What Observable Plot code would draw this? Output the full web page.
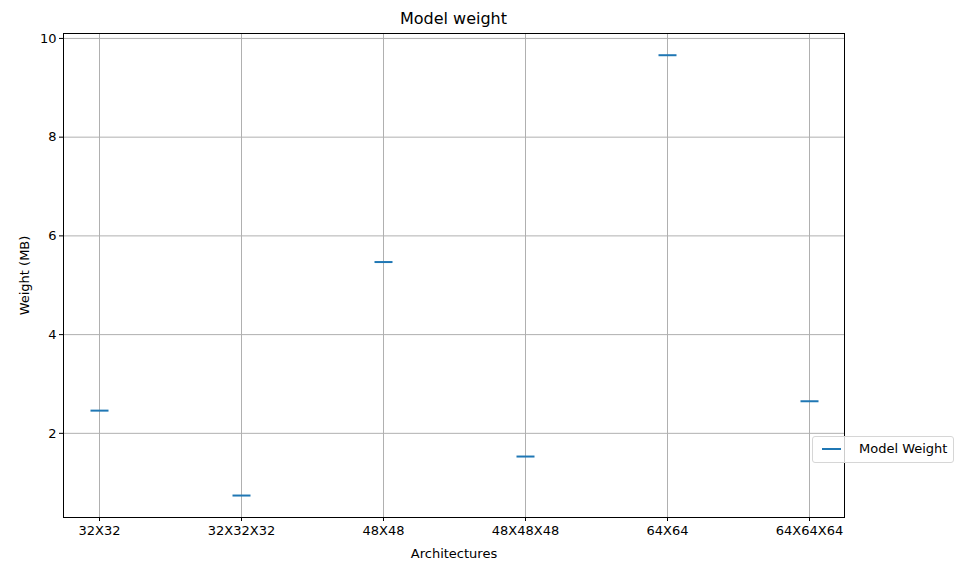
<!DOCTYPE html>
<html>
<head>
<meta charset="utf-8">
<script src="https://cdn.jsdelivr.net/npm/d3@7"></script>
<script src="https://cdn.jsdelivr.net/npm/@observablehq/plot@0.6"></script>
<style>
  html, body { margin: 0; padding: 0; background: #fff; }
  #wrap { position: relative; width: 956px; height: 561px; font-family: "DejaVu Sans", sans-serif; color: #000; }
  #title { position: absolute; left: 0; width: 907px; top: 9px; text-align: center; font-size: 16px; }
  #legend { position: absolute; left: 812px; top: 436px; width: 140px; height: 25px; border: 1px solid #d6d6d6; border-radius: 3px; background: rgba(255,255,255,0.8); font-size: 13px; }
  #legend .sw { position: absolute; left: 9px; top: 11px; width: 19px; height: 0; border-top: 2px solid #1f77b4; }
  #legend .lb { position: absolute; left: 46px; top: 4px; }
</style>
</head>
<body>
<div id="wrap">
  <div id="chart"></div>
  <div id="title">Model weight</div>
  <div id="legend"><div class="sw"></div><div class="lb">Model Weight</div></div>
</div>
<script>
const categories = ["32X32", "32X32X32", "48X48", "48X48X48", "64X64", "64X64X64"];
const weights = [2.46, 0.74, 5.47, 1.53, 9.66, 2.65];
const yTicks = [2, 4, 6, 8, 10];

const data = categories.map((c, i) => ({arch: c, weight: weights[i]}));

const hline = {
  draw(context, size) {
    context.moveTo(-9, 0);
    context.lineTo(9, 0);
  }
};

const chart = Plot.plot({
  width: 956,
  height: 561,
  marginLeft: 63,
  marginRight: 112,
  marginTop: 33,
  marginBottom: 44,
  style: {fontFamily: "DejaVu Sans, sans-serif", fontSize: "13px", color: "#000", background: "#fff"},
  x: {type: "point", domain: categories, padding: 0.25},
  y: {domain: [0.295, 10.1]},
  marks: [
    Plot.gridX(categories, {stroke: "#b0b0b0", strokeOpacity: 1, strokeWidth: 1}),
    Plot.gridY(yTicks, {stroke: "#b0b0b0", strokeOpacity: 1, strokeWidth: 1}),
    Plot.axisX(categories, {tickSize: 4, tickPadding: 4, fontSize: 13, label: "Architectures", labelAnchor: "center", labelOffset: 40, stroke: "#000"}),
    Plot.axisY(yTicks, {tickSize: 4, tickPadding: 3, fontSize: 13, label: "Weight (MB)", labelAnchor: "center", labelOffset: 44, labelArrow: "none", stroke: "#000"}),
    Plot.dot(data, {x: "arch", y: "weight", symbol: hline, r: 5, stroke: "#1f77b4", strokeWidth: 2, fill: "none"}),
    Plot.frame({stroke: "#000", strokeWidth: 1})
  ]
});
document.getElementById("chart").appendChild(chart);
</script>
</body>
</html>
